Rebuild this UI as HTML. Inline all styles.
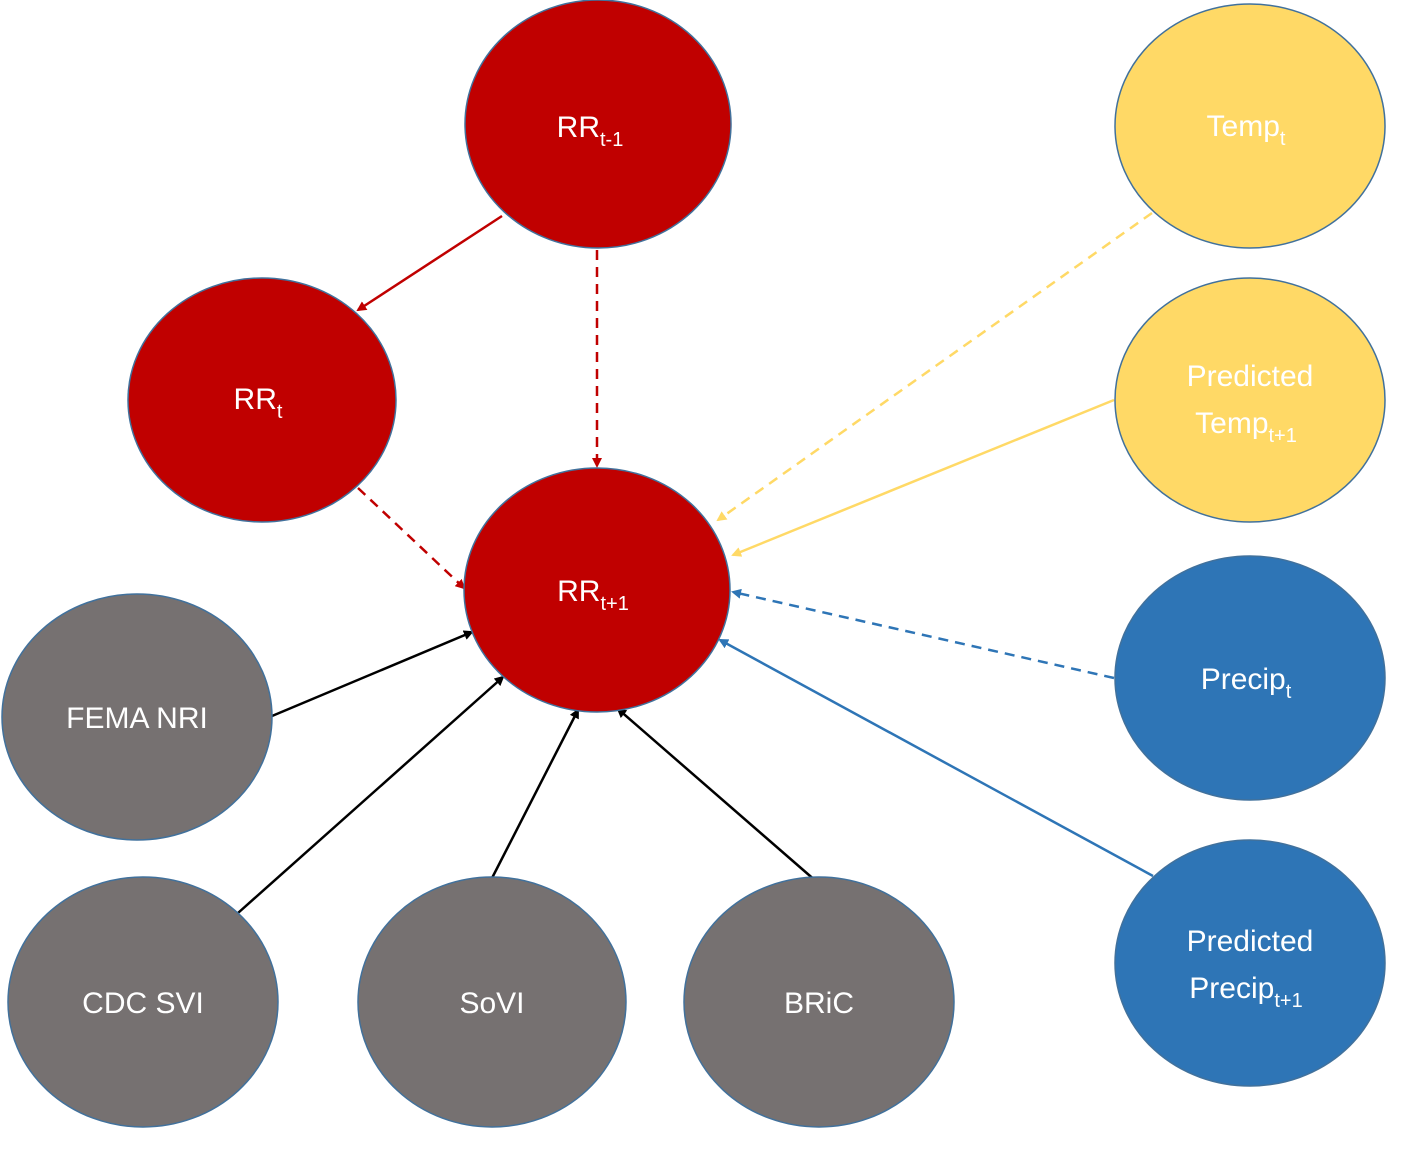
<!DOCTYPE html>
<html><head><meta charset="utf-8"><style>
html,body{margin:0;padding:0;background:#fff;}
svg{display:block;}
text{font-family:"Liberation Sans",sans-serif;fill:#fff;font-size:30px;text-anchor:middle;}
</style></head><body>
<svg width="1417" height="1157" viewBox="0 0 1417 1157" xmlns="http://www.w3.org/2000/svg">
<defs>
<marker id="ar" markerWidth="10" markerHeight="10" refX="8" refY="5" orient="auto" markerUnits="userSpaceOnUse"><path d="M0,0 L10,5 L0,10 z" fill="#C00000"/></marker>
<marker id="ay" markerWidth="10" markerHeight="10" refX="8" refY="5" orient="auto" markerUnits="userSpaceOnUse"><path d="M0,0 L10,5 L0,10 z" fill="#FFD966"/></marker>
<marker id="ab" markerWidth="10" markerHeight="10" refX="8" refY="5" orient="auto" markerUnits="userSpaceOnUse"><path d="M0,0 L10,5 L0,10 z" fill="#2E75B6"/></marker>
<marker id="ak" markerWidth="10" markerHeight="10" refX="8" refY="5" orient="auto" markerUnits="userSpaceOnUse"><path d="M0,0 L10,5 L0,10 z" fill="#000"/></marker>
</defs>
<g stroke-width="2.5" fill="none">
<line x1="502" y1="216" x2="358" y2="310" stroke="#C00000" marker-end="url(#ar)"/>
<line x1="597" y1="250" x2="597" y2="466" stroke="#C00000" stroke-dasharray="10,7" marker-end="url(#ar)"/>
<line x1="358" y1="488" x2="464" y2="588" stroke="#C00000" stroke-dasharray="10,7" marker-end="url(#ar)"/>
<line x1="1152" y1="213" x2="718" y2="520" stroke="#FFD966" stroke-dasharray="10,7" marker-end="url(#ay)"/>
<line x1="1114" y1="400" x2="733" y2="555" stroke="#FFD966" marker-end="url(#ay)"/>
<line x1="1114" y1="678" x2="733" y2="592" stroke="#2E75B6" stroke-dasharray="10,7" marker-end="url(#ab)"/>
<line x1="1153" y1="876" x2="720" y2="640" stroke="#2E75B6" marker-end="url(#ab)"/>
<line x1="272" y1="716" x2="472" y2="632" stroke="#000" marker-end="url(#ak)"/>
<line x1="238" y1="913" x2="503" y2="677" stroke="#000" marker-end="url(#ak)"/>
<line x1="490" y1="882" x2="578" y2="710" stroke="#000" marker-end="url(#ak)"/>
<line x1="817" y1="882" x2="618" y2="709" stroke="#000" marker-end="url(#ak)"/>
</g>
<g stroke="#41719C" stroke-width="1.5">
<ellipse cx="598" cy="124" rx="133" ry="124" fill="#C00000"/>
<ellipse cx="262" cy="400" rx="134" ry="122" fill="#C00000"/>
<ellipse cx="597" cy="590" rx="133" ry="122" fill="#C00000"/>
<ellipse cx="1250" cy="126" rx="135" ry="122" fill="#FFD966"/>
<ellipse cx="1250" cy="400" rx="135" ry="122" fill="#FFD966"/>
<ellipse cx="1250" cy="678" rx="135" ry="122" fill="#2E75B6"/>
<ellipse cx="1250" cy="963" rx="135" ry="123" fill="#2E75B6"/>
<ellipse cx="137" cy="717" rx="135" ry="123" fill="#767171"/>
<ellipse cx="143" cy="1002" rx="135" ry="125" fill="#767171"/>
<ellipse cx="492" cy="1002" rx="134" ry="125" fill="#767171"/>
<ellipse cx="819" cy="1002" rx="135" ry="125" fill="#767171"/>
</g>
<text x="590" y="137">RR<tspan font-size="20" dy="9">t-1</tspan></text>
<text x="258" y="409">RR<tspan font-size="20" dy="9">t</tspan></text>
<text x="593" y="601">RR<tspan font-size="20" dy="9">t+1</tspan></text>
<text x="1246" y="136">Temp<tspan font-size="20" dy="9">t</tspan></text>
<text x="1250" y="386">Predicted</text>
<text x="1246" y="433">Temp<tspan font-size="20" dy="9">t+1</tspan></text>
<text x="1246" y="689">Precip<tspan font-size="20" dy="9">t</tspan></text>
<text x="1250" y="951">Predicted</text>
<text x="1246" y="998">Precip<tspan font-size="20" dy="9">t+1</tspan></text>
<text x="137" y="728">FEMA NRI</text>
<text x="143" y="1013">CDC SVI</text>
<text x="492" y="1013">SoVI</text>
<text x="819" y="1013">BRiC</text>
</svg>
</body></html>
